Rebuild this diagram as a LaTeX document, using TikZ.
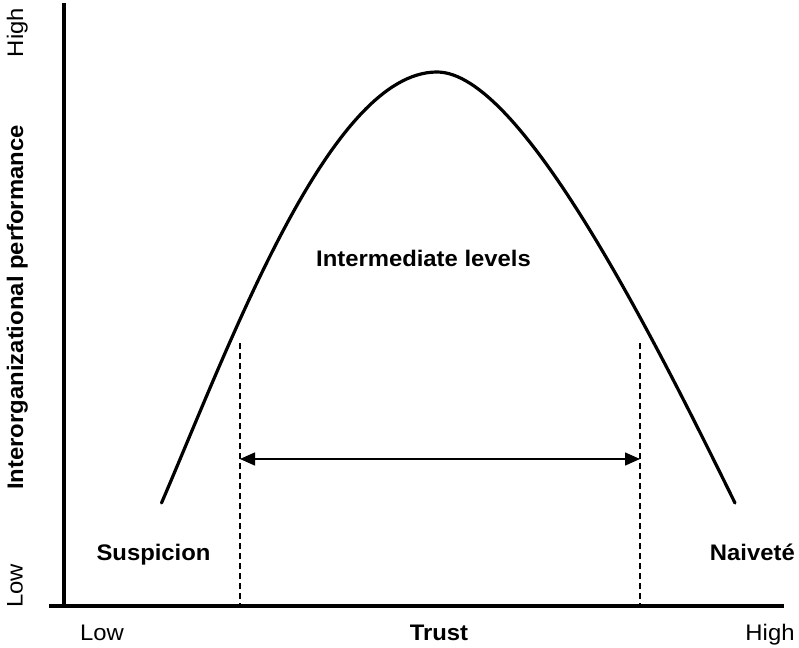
\documentclass[tikz,border=0pt]{standalone}
\usepackage{fontspec}
\setmainfont{Liberation Sans}[FakeStretch=1.06]
\usetikzlibrary{arrows.meta}
\begin{document}
\begin{tikzpicture}[x=1pt,y=-1pt,
  axis/.style={line width=3.8pt},
  curve/.style={line width=3.2pt, line cap=round},
  guide/.style={line width=1.3pt, dash pattern=on 6pt off 4pt},
  span/.style={line width=1.5pt, {Triangle[length=15pt,width=13pt]}-{Triangle[length=15pt,width=13pt]}},
  lbl/.style={font=\fontsize{22.5}{26}\selectfont, inner sep=0pt, anchor=base},
  blbl/.style={font=\fontsize{22.5}{26}\selectfont\bfseries, inner sep=0pt, anchor=base}]
\useasboundingbox (0,0) rectangle (799,647);
% axes
\coordinate (ytop) at (64,3);
\coordinate (ybot) at (64,607);
\coordinate (xl) at (49,606);
\coordinate (xr) at (784,606);
\draw[axis] (ytop) -- (ybot);
\draw[axis] (xl) -- (xr);
% curve
\coordinate (cs) at (161.5,503);
\coordinate (cp) at (437,72);
\coordinate (ce) at (735,503);
\draw[curve] (cs) .. controls (231.5,340) and (330,72) .. (cp)
                  .. controls (520,72) and (650,330) .. (ce);
% dashed guides
\coordinate (g1t) at (240,343);
\coordinate (g1b) at (240,606);
\coordinate (g2t) at (640,343);
\coordinate (g2b) at (640,606);
\draw[guide] (g1t) -- (g1b);
\draw[guide] (g2t) -- (g2b);
% span arrow
\coordinate (a1) at (240,459);
\coordinate (a2) at (640,459);
\draw[span] (a1) -- (a2);
% labels
\node[blbl] (mid) at (423.5,266.5) {Intermediate levels};
\node[blbl] (susp) at (153.5,560) {Suspicion};
\node[blbl, anchor=base east] (naiv) at (795,560) {Naiveté};
\node[lbl] (xlow) at (102,640) {Low};
\node[blbl] (trust) at (439,640) {Trust};
\node[lbl] (xhigh) at (770,640) {High};
\node[lbl, rotate=90] (yhigh) at (23,32.5) {High};
\node[lbl, rotate=90] (ylow) at (22.5,586) {Low};
\node[blbl, rotate=90] (ytitle) at (23,307.5) {Interorganizational performance};
\end{tikzpicture}
\end{document}
